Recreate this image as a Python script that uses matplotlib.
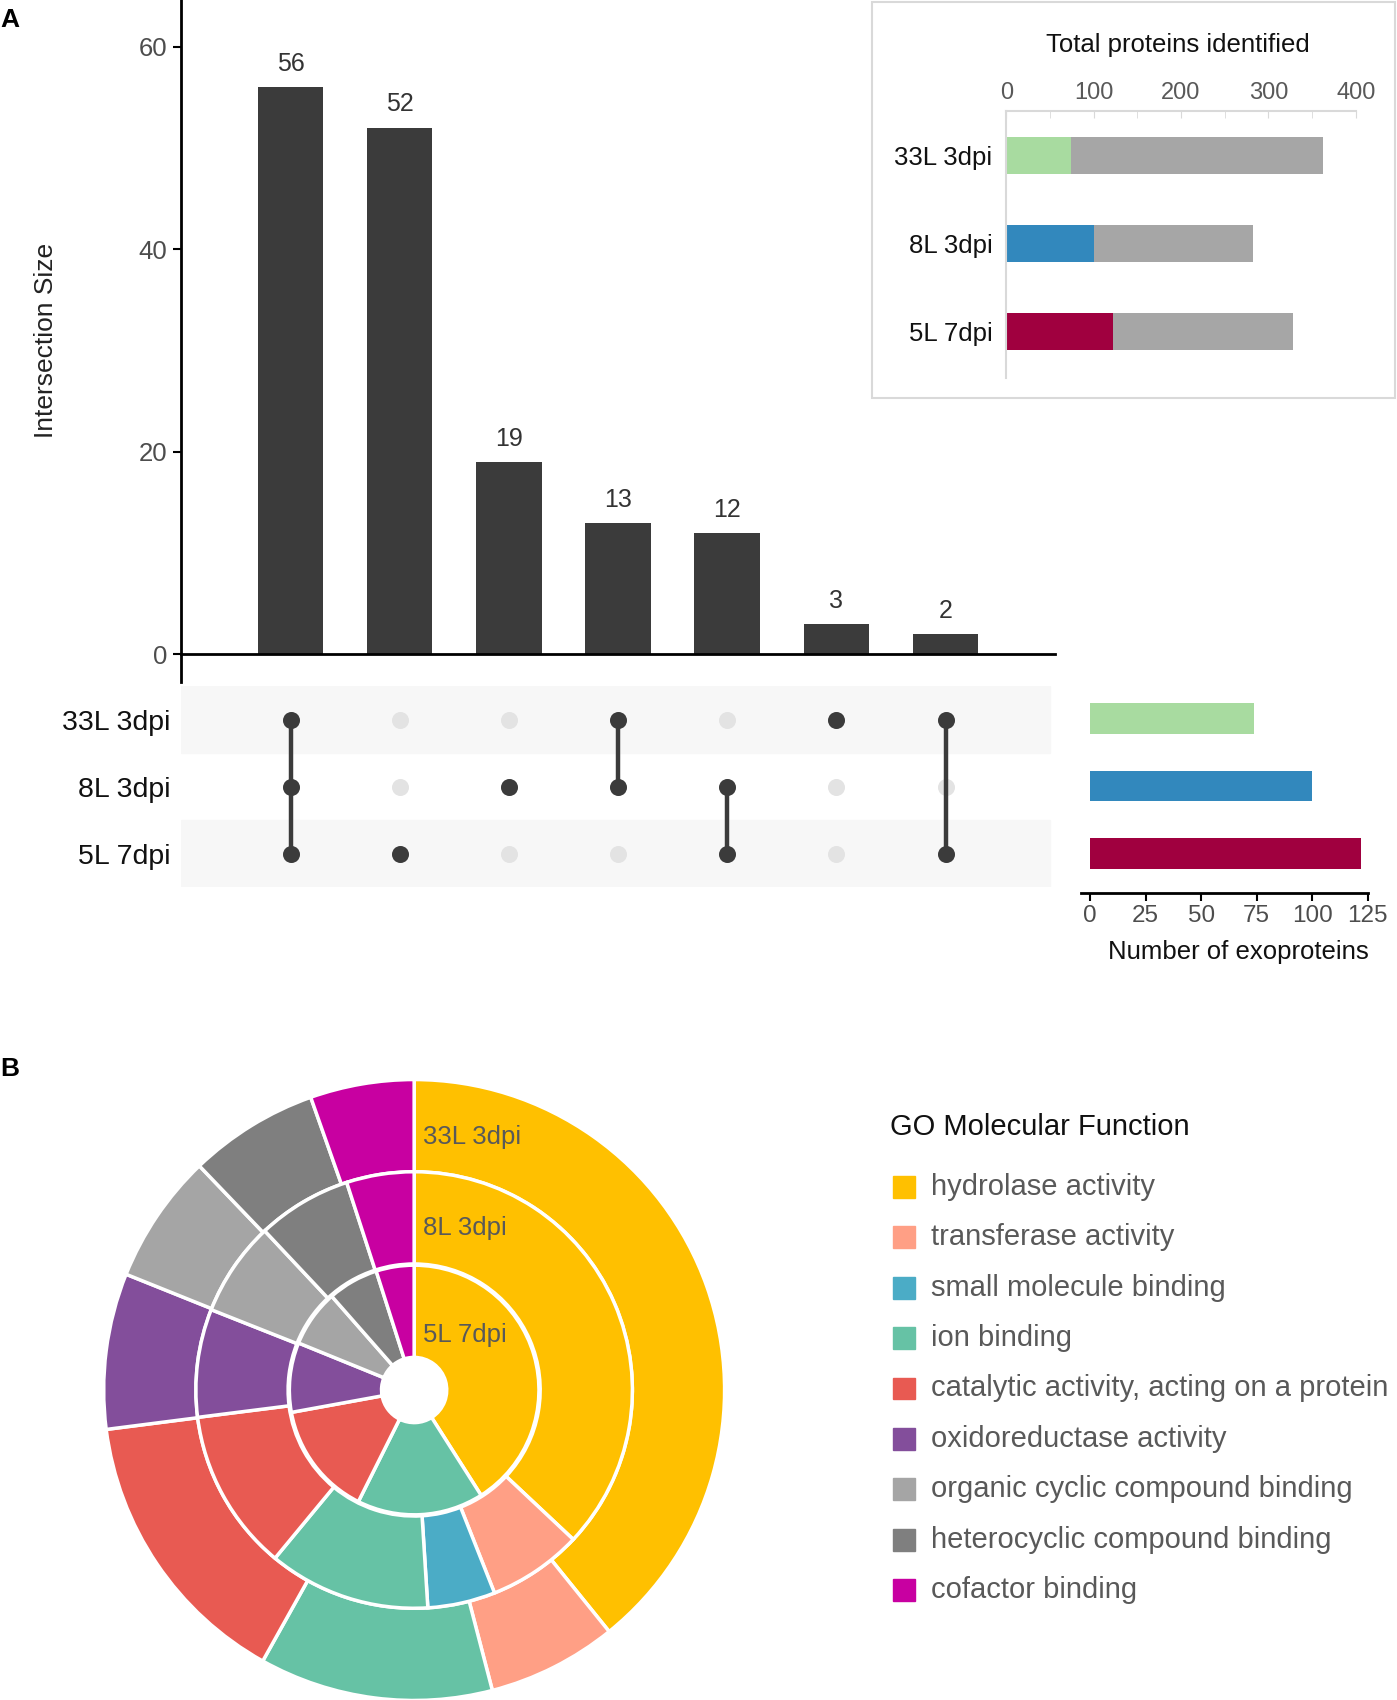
import numpy as np
import matplotlib
matplotlib.use('Agg')
import matplotlib.pyplot as plt
from matplotlib.patches import Rectangle

plt.rcParams['font.family'] = ['Liberation Sans', 'DejaVu Sans']

# data
sets = ['33L 3dpi', '8L 3dpi', '5L 7dpi']
set_colors = ['#A8DBA0', '#3288BD', '#A0003F']
exoproteins = [74, 100, 122]
total_proteins = [363, 282, 328]

inter_sizes = [56, 52, 19, 13, 12, 3, 2]
inter_members = [[0, 1, 2], [2], [1], [0, 1], [1, 2], [0], [0, 2]]

go_terms = ['hydrolase activity', 'transferase activity', 'small molecule binding',
            'ion binding', 'catalytic activity, acting on a protein',
            'oxidoreductase activity', 'organic cyclic compound binding',
            'heterocyclic compound binding', 'cofactor binding']
go_colors = ['#FFC000', '#FF9F85', '#4BACC6', '#66C2A5', '#E85A52',
             '#834E9B', '#A5A5A5', '#7F7F7F', '#C800A1']
go_33L = [29, 5, 0, 9, 11, 6, 5, 5, 4]
go_8L = [37, 7, 5, 12, 12, 8, 7, 7, 5]
go_5L = [50, 0, 0, 20, 18, 11, 9, 8, 6]

fig = plt.figure(figsize=(13.97, 17.0), dpi=100)

# ---- A: intersection bars
ax = fig.add_axes([0.1298, 0.599, 0.6252, 0.401])
xs = np.arange(len(inter_sizes))
ax.bar(xs, inter_sizes, width=0.6, color='#3B3B3B')
for x, h in zip(xs, inter_sizes):
    ax.text(x, h + 1.1, str(h), ha='center', va='bottom', fontsize=18, color='#333333')
ax.set_xlim(-1, 7)
ax.set_ylim(-2.7, 64.6)
ax.set_yticks([0, 20, 40, 60])
ax.tick_params(axis='y', labelsize=18.5, labelcolor='#4D4D4D', length=6, width=1.5, pad=4)
ax.set_xticks([])
for s in ['top', 'right']:
    ax.spines[s].set_visible(False)
ax.spines['bottom'].set_position(('data', 0))
ax.spines['bottom'].set_linewidth(2)
ax.spines['left'].set_linewidth(2)
ax.set_ylabel('Intersection Size', fontsize=19, color='#222222', labelpad=58)

# matrix
mx = fig.add_axes([0.1298, 0.478, 0.6252, 0.1184])
mx.set_xlim(-1, 7)
mx.set_ylim(-0.5, 2.5)
for i in range(len(sets)):
    y = 2 - i
    if i % 2 == 0:
        mx.axhspan(y - 0.5, y + 0.5, xmax=0.995, color='#F7F7F7', zorder=0)
for x, mem in zip(xs, inter_members):
    ys = [2 - i for i in mem]
    allys = [2 - i for i in range(len(sets))]
    mx.scatter([x] * 3, allys, s=150, color='#E3E3E3', zorder=2, linewidths=0)
    if len(ys) > 1:
        mx.plot([x, x], [min(ys), max(ys)], color='#3B3B3B', lw=3.2, zorder=3)
    mx.scatter([x] * len(ys), ys, s=150, color='#3B3B3B', zorder=4, linewidths=0)
mx.set_yticks([2, 1, 0])
mx.set_yticklabels(sets, fontsize=20.5, color='#111111')
mx.tick_params(axis='y', length=0, pad=8)
mx.set_xticks([])
for s in mx.spines.values():
    s.set_visible(False)

# set size bars
sx = fig.add_axes([0.774, 0.475, 0.205, 0.1214])
sx.barh([2 - i for i in range(len(sets))], exoproteins, height=0.45, color=set_colors)
sx.set_xlim(-4, 125)
sx.set_ylim(-0.58, 2.48)
sx.set_xticks([0, 25, 50, 75, 100, 125])
sx.tick_params(axis='x', labelsize=17.5, labelcolor='#4D4D4D', length=6, width=1.5, pad=3)
sx.set_yticks([])
for s in ['top', 'right', 'left']:
    sx.spines[s].set_visible(False)
sx.spines['bottom'].set_linewidth(2)
sx.set_xlabel('Number of exoproteins', fontsize=18.5, color='#111111')
sx.xaxis.set_label_coords(0.55, -0.23)

# inset: total proteins
fig.patches.append(Rectangle((0.624, 0.766), 0.3745, 0.233, transform=fig.transFigure,
                             fill=False, edgecolor='#D9D9D9', lw=1.5))
ix = fig.add_axes([0.7203, 0.7778, 0.2502, 0.1571])
iy = [2 - i for i in range(len(sets))]
rest = [t - e for t, e in zip(total_proteins, exoproteins)]
ix.barh(iy, exoproteins, height=0.42, color=set_colors)
ix.barh(iy, rest, left=exoproteins, height=0.42, color='#A6A6A6')
ix.set_xlim(0, 400)
ix.set_ylim(-0.53, 2.506)
ix.xaxis.tick_top()
ix.set_xticks([0, 100, 200, 300, 400])
ix.set_xticks([50, 150, 250, 350], minor=True)
ix.tick_params(axis='x', which='both', direction='in', length=5, color='#D9D9D9',
               labelsize=17, labelcolor='#595959', pad=5)
ix.set_yticks(iy)
ix.set_yticklabels(sets, fontsize=18.5, color='#111111')
ix.tick_params(axis='y', length=0, pad=10)
for s in ['bottom', 'right']:
    ix.spines[s].set_visible(False)
for s in ['top', 'left']:
    ix.spines[s].set_color('#D9D9D9')
    ix.spines[s].set_linewidth(1.5)
fig.text(0.843, 0.9735, 'Total proteins identified', ha='center', va='center',
         fontsize=18.5, color='#111111')

# ---- B: nested donut
px = fig.add_axes([0.0631, -0.0094, 0.4667, 0.3835])
rings = [(go_33L, 1.0), (go_8L, 0.703), (go_5L, 0.402)]
for vals, r in rings:
    v = [a for a in vals if a > 0]
    c = [col for a, col in zip(vals, go_colors) if a > 0]
    px.pie(v, radius=r, colors=c, startangle=90, counterclock=False,
           wedgeprops=dict(width=0.297, edgecolor='white', linewidth=2.5))
for name, ry in zip(sets, [0.815, 0.521, 0.178]):
    px.text(0.03, ry, name, ha='left', va='center', fontsize=18.5, color='#595959')
px.set_xlim(-1.05, 1.05)
px.set_ylim(-1.05, 1.05)
px.set_aspect('equal')
px.axis('off')

# legend
fig.text(0.637, 0.337, 'GO Molecular Function', ha='left', va='center',
         fontsize=21, color='#111111')
for k, (term, col) in enumerate(zip(go_terms, go_colors)):
    yy = 0.3019 - k * 0.02965
    fig.patches.append(Rectangle((0.639, yy - 0.0065), 0.0157, 0.0129,
                                 transform=fig.transFigure, color=col))
    fig.text(0.6665, yy, term, ha='left', va='center', fontsize=21, color='#595959')

fig.text(0.0, 0.9885, 'A', fontsize=19, fontweight='bold', va='center')
fig.text(0.0, 0.371, 'B', fontsize=19, fontweight='bold', va='center')

fig.savefig('out.png', dpi=100)
